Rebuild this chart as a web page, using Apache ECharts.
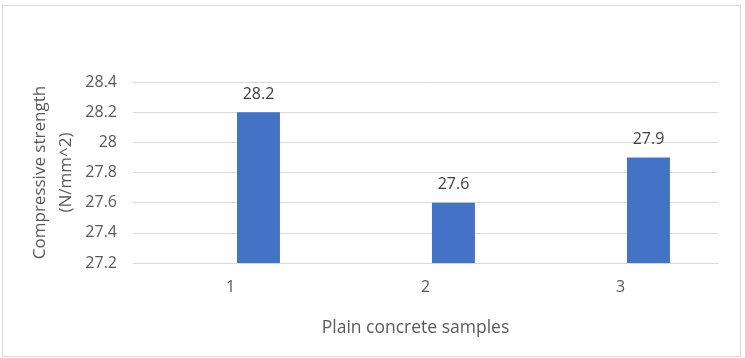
<!DOCTYPE html>
<html>
<head>
<meta charset="utf-8">
<script src="https://cdn.jsdelivr.net/npm/echarts@6/dist/echarts.min.js"></script>
<style>
html,body{margin:0;padding:0;background:#fff;}
#frame{position:absolute;left:2px;top:5px;width:739px;height:352px;border:1px solid #d9d9d9;box-sizing:border-box;}
#chart{position:absolute;left:0;top:0;width:745px;height:358px;}
</style>
</head>
<body>
<div id="frame"></div>
<div id="chart"></div>
<script>
const categories = ['1', '2', '3'];
const values = [28.2, 27.6, 27.9];
const emptySeries = [null, null, null];
const yMin = 27.2, yMax = 28.4, yStep = 0.2;
const xTitle = 'Plain concrete samples';
const yTitle = 'Compressive strength\n(N/mm^2)';

const font = '"Open Sans", "Noto Sans", sans-serif';
const chart = echarts.init(document.getElementById('chart'));
chart.setOption({
  animation: false,
  grid: {left: 133, right: 27, top: 82, bottom: 95},
  xAxis: {
    type: 'category',
    data: categories,
    name: xTitle,
    nameLocation: 'middle',
    nameGap: 56,
    nameMoveOverlap: false,
    nameTextStyle: {fontFamily: font, fontSize: 17.5, color: '#595959', padding: [0, 20, 0, 0]},
    axisLine: {show: true, lineStyle: {color: '#d9d9d9'}},
    axisTick: {show: false},
    axisLabel: {fontFamily: font, fontSize: 16, color: '#595959', margin: 16}
  },
  yAxis: {
    type: 'value',
    min: yMin, max: yMax, interval: yStep,
    name: yTitle,
    nameLocation: 'middle',
    nameRotate: 90,
    nameGap: 54,
    nameMoveOverlap: false,
    nameTextStyle: {fontFamily: font, fontSize: 17, color: '#595959', lineHeight: 26, align: 'center'},
    axisLine: {show: false},
    axisTick: {show: false},
    axisLabel: {fontFamily: font, fontSize: 16, color: '#595959', margin: 16,
      formatter: v => String(parseFloat(v.toFixed(1)))},
    splitLine: {lineStyle: {color: '#d9d9d9'}}
  },
  series: [
    {type: 'bar', data: emptySeries, barWidth: 43, barGap: '30%'},
    {type: 'bar', data: values, barWidth: 43, barGap: '30%',
      itemStyle: {color: '#4472C4'},
      label: {show: true, position: 'top', distance: 10, fontFamily: font, fontSize: 16, color: '#404040'}}
  ]
});
</script>
</body>
</html>
